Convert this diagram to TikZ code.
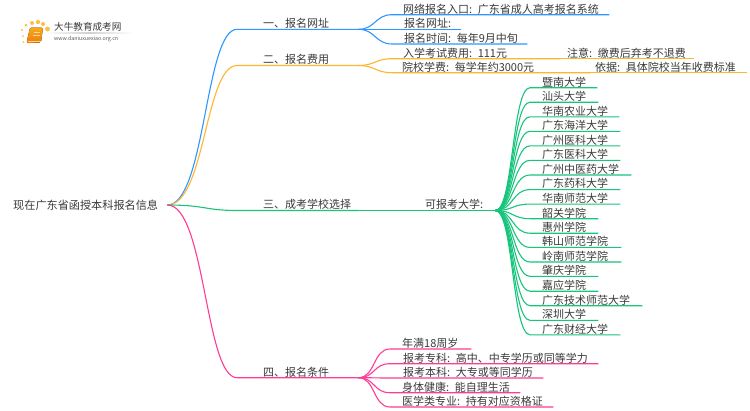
\documentclass[tikz,border=0pt]{standalone}
\usepackage{fontspec}
\setmainfont{Noto Sans CJK SC}
\usetikzlibrary{shadings}
\definecolor{cblue}{HTML}{2F97FF}
\definecolor{corange}{HTML}{FFB62E}
\definecolor{cgreen}{HTML}{17C67C}
\definecolor{cpink}{HTML}{FF3B94}
\definecolor{ctext}{HTML}{3A3A3A}
\definecolor{bookhi}{HTML}{FBA91E}
\definecolor{booklo}{HTML}{EE7C08}
\tikzset{
 lab/.style={anchor=south west,inner sep=0pt,align=left,text height=9pt,text depth=1.5pt,font=\fontsize{11}{13}\selectfont,text=ctext},
 rootnode/.style={anchor=west,inner sep=0pt,align=left,text width=154pt,font=\fontsize{11.15}{13}\selectfont,text=ctext},
 wire/.style={line width=1.1pt},
 bl/.style={wire,draw=cblue},
 or/.style={wire,draw=corange},
 gr/.style={wire,draw=cgreen},
 pk/.style={wire,draw=cpink}
}
% name, parent, style, x0, y(line), x1, xtext, text
\newcommand\lf[8]{%
 \pgfmathsetmacro\lfw{#6-#4}\pgfmathsetmacro\lfh{#7-#4}%
 \node[lab,text width=\lfw pt] (#1) at (#4,#5) {\hspace*{\lfh pt}#8};
 \draw[#3] (#2.south east) .. controls +(17,0) and +(-17,0) .. (#1.south west) -- (#1.south east);
}
\newcommand\br[8]{%
 \pgfmathsetmacro\lfw{#6-#4}\pgfmathsetmacro\lfh{#7-#4}%
 \node[lab,text width=\lfw pt] (#1) at (#4,#5) {\hspace*{\lfh pt}#8};
 \draw[#3] (#2.east) .. controls +(38,0) and +(-32,0) .. (#1.south west) -- (#1.south east);
}
\newcommand\gl[6]{%
 \pgfmathsetmacro\lfw{#4-530}\pgfmathsetmacro\lfh{#5-530}%
 \node[lab,text width=\lfw pt] (#1) at (530,#3) {\hspace*{\lfh pt}#6};
 \draw[gr] (#2.south east) .. controls +(18,0) and +(-18,0) .. (#1.south west) -- (#1.south east);
}
\begin{document}
\begin{tikzpicture}[x=1pt,y=-1pt]
\useasboundingbox (0,0) rectangle (750,410);
\fill[white] (0,0) rectangle (750,410);
% logo
\foreach \px/\py/\pr in {22/30/1.2,23/36/1,23.5/42/1,26/25/1.5,32/23/2,38/22/2.1,43/24/2,47.5/29/2.4}
  \fill[corange!90!white] (\px,\py) circle (\pr);
\fill[top color=bookhi,bottom color=booklo,rounded corners=1.5pt] (30,27.5) -- (43,27.5) -- (41,42.5) -- (26.5,43) -- cycle;
\draw[white,opacity=.6,line width=.6pt] (33.5,32) -- (40,32) (33,35) -- (39.5,35);
\draw[bookhi!50!white,line width=.7pt] (28,41.3) -- (40.5,41.3);
\node[inner sep=0pt,anchor=west,text=ctext,font=\fontsize{9.6}{11}\selectfont] (logotitle) at (54,27) {大牛教育成考网};
\node[inner sep=0pt,anchor=west,text=black!65,font=\fontsize{5.3}{6}\selectfont] (logourl) at (54,38.7) {www.daniuxuexiao.org.cn};
\shade[left color=white,right color=white,middle color=black!18] (45,32.8) rectangle (133,33.5);
% root
\node[rootnode] (root) at (13,205) {现在广东省函授本科报名信息};
% branches
\br{b1}{root}{bl}{237}{29.3}{358}{263}{一、报名网址}
\br{b2}{root}{or}{237}{65.5}{358}{263}{二、报名费用}
\br{b3}{root}{gr}{237}{210.5}{358}{263}{三、成考学校选择}
\br{b4}{root}{pk}{237}{377.7}{358}{263}{四、报名条件}
% blue
\lf{a1}{b1}{bl}{392}{14.7}{609}{403}{网络报名入口: 广东省成人高考报名系统}
\lf{a2}{b1}{bl}{392}{29.3}{461}{404}{报名网址:}
\lf{a3}{b1}{bl}{392}{44}{527}{404}{报名时间: 每年9月中旬}
% orange
\lf{c1}{b2}{or}{392}{58.7}{560}{403}{入学考试费用: 111元}
\lf{c2}{b2}{or}{392}{72.7}{590}{402}{院校学费: 每学年约3000元}
\node[lab,text width=134pt] (c1n) at (560,58.7) {\hspace*{7pt}注意: 缴费后弃考不退费};
\node[lab,text width=157pt] (c2n) at (590,72.7) {\hspace*{5pt}依据: 具体院校当年收费标准};
\draw[or] (c1.south east) -- (c1n.south east);
\draw[or] (c2.south east) -- (c2n.south east);
% green hub
\node[lab,text width=137pt] (hub) at (358,210.5) {\hspace*{67pt}可报考大学:};
\draw[gr] (b3.south east) -- (hub.south west) -- (hub.south east);
\gl{u1}{hub}{87.7}{597}{542}{暨南大学}
\gl{u2}{hub}{102.2}{598}{542}{汕头大学}
\gl{u3}{hub}{116.8}{619}{542}{华南农业大学}
\gl{u4}{hub}{131.3}{620}{542}{广东海洋大学}
\gl{u5}{hub}{145.9}{620}{542}{广州医科大学}
\gl{u6}{hub}{160.4}{620}{542}{广东医科大学}
\gl{u7}{hub}{175}{631}{542}{广州中医药大学}
\gl{u8}{hub}{189.6}{620}{542}{广东药科大学}
\gl{u9}{hub}{204.1}{620}{542}{华南师范大学}
\gl{u10}{hub}{218.7}{598}{542}{韶关学院}
\gl{u11}{hub}{233.2}{598}{542}{惠州学院}
\gl{u12}{hub}{247.4}{621}{542}{韩山师范学院}
\gl{u13}{hub}{262}{621}{542}{岭南师范学院}
\gl{u14}{hub}{276.3}{598}{542}{肇庆学院}
\gl{u15}{hub}{291.2}{598}{542}{嘉应学院}
\gl{u16}{hub}{305.7}{642}{542}{广东技术师范大学}
\gl{u17}{hub}{320.3}{598}{542}{深圳大学}
\gl{u18}{hub}{334.8}{620}{542}{广东财经大学}
% pink
\lf{p1}{b4}{pk}{390}{349}{471}{402}{年满18周岁}
\lf{p2}{b4}{pk}{390}{363.7}{598}{403}{报考专科: 高中、中专学历或同等学力}
\lf{p3}{b4}{pk}{390}{378}{543}{403}{报考本科: 大专或等同学历}
\lf{p4}{b4}{pk}{390}{392.7}{520}{402}{身体健康: 能自理生活}
\lf{p5}{b4}{pk}{390}{407}{553}{402}{医学类专业: 持有对应资格证}
\end{tikzpicture}
\end{document}
